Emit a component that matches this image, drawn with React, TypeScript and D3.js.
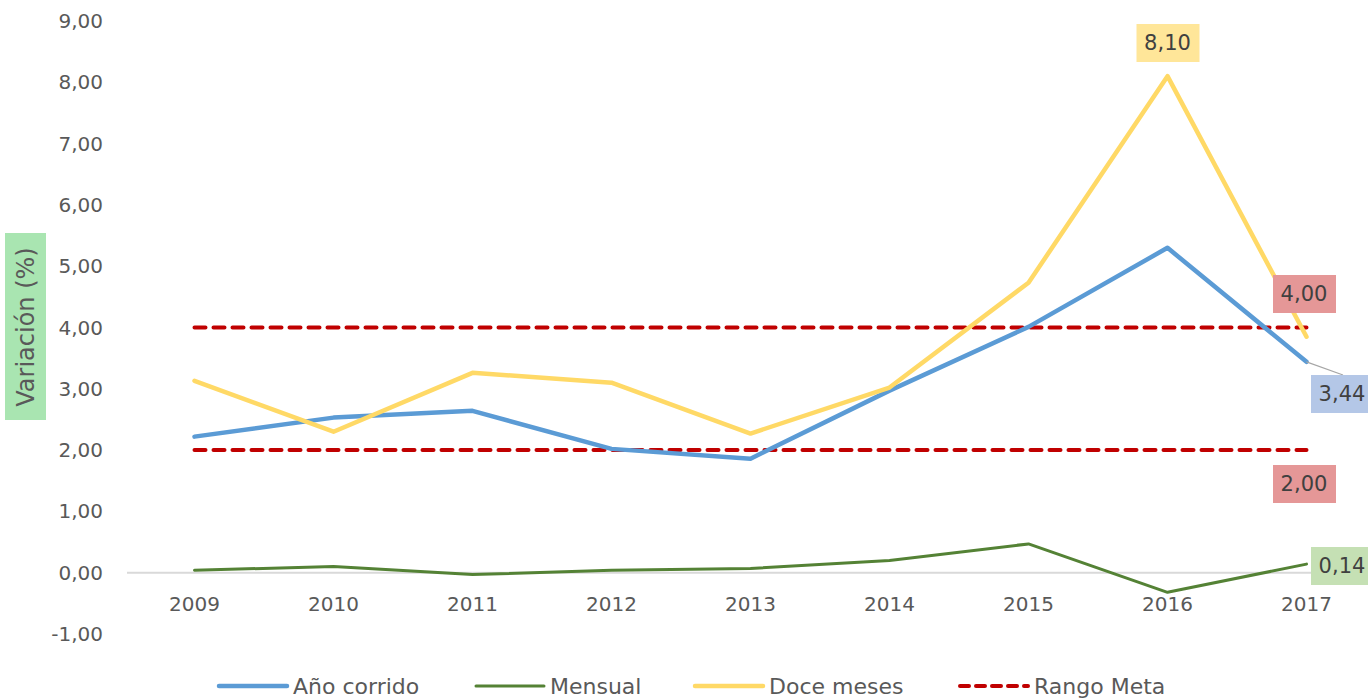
import React, { useEffect, useRef } from 'react';
import * as d3 from 'd3';

const years = ['2009', '2010', '2011', '2012', '2013', '2014', '2015', '2016', '2017'];
const anoCorrido = [2.22, 2.53, 2.64, 2.02, 1.86, 2.97, 4.01, 5.3, 3.44];
const mensual = [0.04, 0.1, -0.03, 0.04, 0.07, 0.2, 0.47, -0.32, 0.14];
const doceMeses = [3.13, 2.3, 3.26, 3.1, 2.27, 3.02, 4.73, 8.1, 3.85];
const rangoMeta = [4, 2];
const yTicks = [-1, 0, 1, 2, 3, 4, 5, 6, 7, 8, 9];

const FONT = "'DejaVu Sans', 'Century Gothic', sans-serif";
const TEXT = '#595959';

// comma decimal, plain hyphen for negatives
const fmt = (v: number) => v.toFixed(2).replace('.', ',');

const App: React.FC = () => {
  const svgRef = useRef<SVGSVGElement>(null);
  const width = 1368;
  const height = 699;

  useEffect(() => {
    if (!svgRef.current) return;
    const svg = d3.select(svgRef.current);
    svg.selectAll('*').remove();

    const x = d3.scalePoint<string>().domain(years).range([125, 1376]).padding(0.5);
    const y = d3.scaleLinear().domain([-1, 9]).range([634, 21]);

    // y tick labels
    svg.append('g')
      .selectAll('text')
      .data(yTicks)
      .enter().append('text')
      .attr('x', 103)
      .attr('y', d => y(d))
      .attr('dy', '0.35em')
      .attr('text-anchor', 'end')
      .attr('fill', TEXT)
      .style('font-family', FONT)
      .style('font-size', '20px')
      .text(d => fmt(d));

    // zero axis line
    svg.append('line')
      .attr('x1', 127).attr('x2', 1368)
      .attr('y1', y(0)).attr('y2', y(0))
      .attr('stroke', '#d9d9d9')
      .attr('stroke-width', 2);

    // x labels
    svg.append('g')
      .selectAll('text')
      .data(years)
      .enter().append('text')
      .attr('x', d => x(d) as number)
      .attr('y', 604)
      .attr('dy', '0.35em')
      .attr('text-anchor', 'middle')
      .attr('fill', TEXT)
      .style('font-family', FONT)
      .style('font-size', '20px')
      .text(d => d);

    // y axis title
    svg.append('rect')
      .attr('x', 5).attr('y', 233)
      .attr('width', 41).attr('height', 187)
      .attr('fill', '#a9e5b1');
    svg.append('text')
      .attr('transform', 'translate(26,327) rotate(-90)')
      .attr('text-anchor', 'middle')
      .attr('dy', '0.35em')
      .attr('fill', TEXT)
      .style('font-family', FONT)
      .style('font-size', '24px')
      .text('Variación (%)');

    // Rango meta dashed lines
    rangoMeta.forEach(v => {
      svg.append('line')
        .attr('x1', x(years[0]) as number)
        .attr('x2', x(years[years.length - 1]) as number)
        .attr('y1', y(v)).attr('y2', y(v))
        .attr('stroke', '#c00000')
        .attr('stroke-width', 4)
        .attr('stroke-dasharray', '11,8')
        .attr('stroke-linecap', 'round');
    });

    const line = d3.line<number>()
      .x((_, i) => x(years[i]) as number)
      .y(d => y(d));

    const series = [
      { values: anoCorrido, color: '#5b9bd5', w: 4.5 },
      { values: mensual, color: '#548235', w: 3 },
      { values: doceMeses, color: '#ffd966', w: 4.5 },
    ];
    series.forEach(s => {
      svg.append('path')
        .datum(s.values)
        .attr('fill', 'none')
        .attr('stroke', s.color)
        .attr('stroke-width', s.w)
        .attr('stroke-linejoin', 'round')
        .attr('stroke-linecap', 'round')
        .attr('d', line);
    });

    // leader line for 3,44
    const last = years.length - 1;
    svg.append('line')
      .attr('x1', x(years[last]) as number).attr('y1', y(anoCorrido[last]))
      .attr('x2', 1343).attr('y2', 375)
      .attr('stroke', '#a6a6a6')
      .attr('stroke-width', 1.2);

    // data labels
    const labels = [
      { v: doceMeses[7], cx: x(years[7]) as number, cy: 43, fill: '#ffe699' },
      { v: rangoMeta[0], cx: 1304, cy: 294, fill: '#e59797' },
      { v: anoCorrido[last], cx: 1342, cy: 394, fill: '#b4c7e7' },
      { v: rangoMeta[1], cx: 1304, cy: 484, fill: '#e59797' },
      { v: mensual[last], cx: 1342, cy: 566, fill: '#c5e0b4' },
    ];
    labels.forEach(l => {
      svg.append('rect')
        .attr('x', l.cx - 31).attr('y', l.cy - 19)
        .attr('width', 63).attr('height', 38)
        .attr('fill', l.fill);
      svg.append('text')
        .attr('x', l.cx).attr('y', l.cy)
        .attr('dy', '0.35em')
        .attr('text-anchor', 'middle')
        .attr('fill', '#404040')
        .style('font-family', FONT)
        .style('font-size', '21px')
        .text(fmt(l.v));
    });

    // legend
    const legend = [
      { name: 'Año corrido', color: '#5b9bd5', x0: 217, w: 4.5, dash: null },
      { name: 'Mensual', color: '#548235', x0: 474, w: 3, dash: null },
      { name: 'Doce meses', color: '#ffd966', x0: 693, w: 4.5, dash: null },
      { name: 'Rango Meta', color: '#c00000', x0: 958, w: 4, dash: '9,7' },
    ];
    const ly = 686;
    legend.forEach(l => {
      const ln = svg.append('line')
        .attr('x1', l.x0 + 2).attr('x2', l.x0 + 70)
        .attr('y1', ly).attr('y2', ly)
        .attr('stroke', l.color)
        .attr('stroke-width', l.w)
        .attr('stroke-linecap', 'round');
      if (l.dash) ln.attr('stroke-dasharray', l.dash);
      svg.append('text')
        .attr('x', l.x0 + 76).attr('y', ly)
        .attr('dy', '0.35em')
        .attr('fill', TEXT)
        .style('font-family', FONT)
        .style('font-size', '22px')
        .text(l.name);
    });
  }, []);

  return (
    <svg
      ref={svgRef}
      width={width}
      height={height}
      style={{ position: 'absolute', left: 0, top: 0, background: '#fff' }}
    />
  );
};

export default App;
